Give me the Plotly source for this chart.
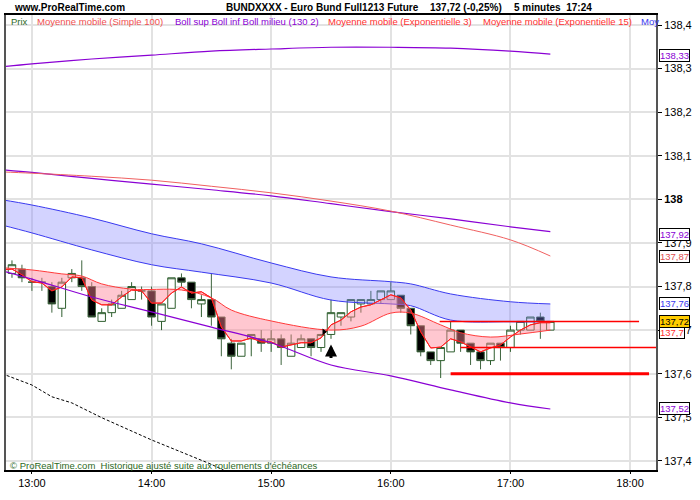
import pandas as pd
import plotly.graph_objects as go

DAY = "2013-11-04 "

# Candles (5 minutes), 12:50 -> 17:20
candle_times = pd.date_range(DAY + "12:50", periods=55, freq="5min")
opens = [137.83, 137.84, 137.81, 137.81, 137.80, 137.75, 137.82, 137.82, 137.80, 137.72,
         137.74, 137.75, 137.77, 137.79, 137.79, 137.72, 137.75, 137.82, 137.81, 137.76,
         137.77, 137.73, 137.67, 137.64, 137.68, 137.68, 137.67, 137.68, 137.64, 137.66,
         137.68, 137.66, 137.69, 137.73, 137.73, 137.76, 137.76, 137.77, 137.77, 137.78,
         137.75, 137.71, 137.65, 137.63, 137.65, 137.70, 137.67, 137.65, 137.63, 137.67,
         137.66, 137.70, 137.70, 137.73, 137.70]
highs = [137.86, 137.85, 137.82, 137.82, 137.81, 137.82, 137.84, 137.86, 137.81, 137.75,
         137.77, 137.79, 137.81, 137.80, 137.80, 137.76, 137.82, 137.83, 137.81, 137.78,
         137.83, 137.73, 137.68, 137.67, 137.69, 137.70, 137.70, 137.69, 137.69, 137.69,
         137.68, 137.69, 137.77, 137.74, 137.77, 137.77, 137.79, 137.79, 137.81, 137.78,
         137.75, 137.71, 137.65, 137.66, 137.72, 137.70, 137.67, 137.65, 137.67, 137.67,
         137.71, 137.72, 137.73, 137.74, 137.72]
lows = [137.82, 137.81, 137.79, 137.79, 137.74, 137.73, 137.81, 137.79, 137.73, 137.72,
        137.73, 137.75, 137.77, 137.77, 137.71, 137.70, 137.75, 137.80, 137.75, 137.73,
        137.71, 137.64, 137.61, 137.64, 137.64, 137.65, 137.65, 137.62, 137.64, 137.66,
        137.64, 137.65, 137.68, 137.71, 137.72, 137.74, 137.76, 137.76, 137.77, 137.74,
        137.69, 137.64, 137.62, 137.59, 137.65, 137.65, 137.62, 137.61, 137.62, 137.63,
        137.65, 137.69, 137.70, 137.68, 137.70]
closes = [137.85, 137.82, 137.81, 137.81, 137.76, 137.81, 137.83, 137.80, 137.73, 137.74,
          137.76, 137.78, 137.80, 137.79, 137.73, 137.76, 137.82, 137.81, 137.77, 137.77,
          137.73, 137.68, 137.64, 137.67, 137.69, 137.67, 137.68, 137.66, 137.67, 137.68,
          137.66, 137.69, 137.74, 137.74, 137.77, 137.77, 137.77, 137.79, 137.79, 137.75,
          137.71, 137.65, 137.63, 137.66, 137.70, 137.67, 137.65, 137.63, 137.67, 137.66,
          137.70, 137.72, 137.73, 137.72, 137.72]

# Moyenne mobile (Exponentielle 3), read per bar, 12:45 -> 17:20
ema3_times = pd.date_range(DAY + "12:45", periods=56, freq="5min")
ema3 = [137.838, 137.840, 137.827, 137.811, 137.808, 137.790, 137.799, 137.822, 137.820, 137.769,
        137.758, 137.758, 137.776, 137.792, 137.790, 137.762, 137.762, 137.785, 137.799, 137.785,
        137.788, 137.774, 137.707, 137.675, 137.675, 137.682, 137.673, 137.673, 137.661, 137.666,
        137.671, 137.671, 137.682, 137.712, 137.723, 137.742, 137.753, 137.758, 137.769, 137.781,
        137.774, 137.746, 137.696, 137.659, 137.661, 137.680, 137.673, 137.661, 137.650, 137.659,
        137.666, 137.684, 137.700, 137.712, 137.717, 137.717]

# Moyenne mobile (Exponentielle 15)
ema15_times = [DAY + t for t in ["12:45", "13:00", "13:15", "13:25", "13:35", "13:50", "14:15",
                                 "14:30", "14:40", "15:00", "15:30", "15:45", "16:00", "16:10",
                                 "16:25", "16:35", "16:50", "17:05", "17:20"]]
ema15 = [137.843, 137.838, 137.829, 137.824, 137.806, 137.794, 137.792, 137.774, 137.746,
         137.721, 137.700, 137.709, 137.739, 137.739, 137.712, 137.694, 137.684, 137.691, 137.700]

# Bollinger (130 2) and Moyenne mobile (Simple 100)
slow_times = [DAY + t for t in ["12:45", "13:00", "13:30", "14:00", "14:30", "15:00",
                                "15:30", "16:00", "16:30", "17:00", "17:20"]]
boll_sup = [138.304, 138.311, 138.322, 138.331, 138.340, 138.345, 138.349, 138.349, 138.347, 138.340, 138.333]
boll_mil = [138.068, 138.062, 138.048, 138.035, 138.022, 138.008, 137.990, 137.972, 137.955, 137.937, 137.926]
boll_inf = [137.836, 137.817, 137.776, 137.742, 137.707, 137.671, 137.620, 137.595, 137.563, 137.533, 137.519]
sma100 = [138.063, 138.060, 138.053, 138.044, 138.030, 138.015, 137.996, 137.973, 137.941, 137.907, 137.870]

# Blue envelope
band_times = [DAY + t for t in ["12:45", "13:00", "13:30", "14:00", "14:25", "15:00",
                                "15:30", "16:00", "16:10", "16:30", "17:00", "17:20"]]
band_up = [137.999, 137.987, 137.957, 137.921, 137.898, 137.854, 137.822, 137.811, 137.806, 137.783, 137.765, 137.760]
band_lo = [137.941, 137.923, 137.884, 137.850, 137.833, 137.808, 137.769, 137.760, 137.756, 137.723, 137.719, 137.719]

# black dashed line (bottom left)
dash_times = [DAY + t for t in ["12:45", "13:00", "13:10", "13:20", "13:35", "13:45",
                                "14:00", "14:15", "14:30", "14:40"]]
dash_vals = [137.600, 137.574, 137.547, 137.533, 137.499, 137.478, 137.448, 137.420, 137.392, 137.370]

# horizontal red levels
levels = [137.72, 137.66, 137.60]
level_start = [DAY + "16:24:30", DAY + "16:35", DAY + "16:30"]
level_end = [DAY + "18:04:30", DAY + "18:13", DAY + "18:09:30"]
level_width = [1.5, 1.5, 3]

# right side value boxes
box_vals = [138.33, 137.92, 137.87, 137.76, 137.695, 137.72, 137.52]
box_text = ["138,33", "137,92", "137,87", "137,76", "137,7", "137,72", "137,52"]
box_color = ["#8a00d4", "#8a00d4", "#e05050", "#3a3af0", "#ff3030", "#000000", "#8a00d4"]
box_bg = ["white", "white", "white", "white", "white", "#ffcc00", "white"]

ytick_vals = [137.4, 137.5, 137.6, 137.7, 137.8, 137.9, 138.0, 138.1, 138.2, 138.3, 138.4]
ytick_text = ["137,4", "137,5", "137,6", "137,7", "137,8", "137,9", "<b>138</b>",
              "138,1", "138,2", "138,3", "138,4"]

FONT = "Liberation Sans, Arial, sans-serif"
BLUE = "#3a3af0"
PURPLE = "#8a00d4"

fig = go.Figure()

# blue envelope with fill
fig.add_trace(go.Scatter(x=band_times, y=band_up, mode="lines", line=dict(color=BLUE, width=1),
                         line_shape="spline"))
fig.add_trace(go.Scatter(x=band_times, y=band_lo, mode="lines", line=dict(color=BLUE, width=1),
                         line_shape="spline", fill="tonexty", fillcolor="rgba(130,130,255,0.35)"))

# EMA 15 / EMA 3 with pink fill between
fig.add_trace(go.Scatter(x=ema15_times, y=ema15, mode="lines", line=dict(color="#ff3a3a", width=1),
                         line_shape="spline"))
fig.add_trace(go.Scatter(x=ema3_times, y=ema3, mode="lines", line=dict(color="#ff2020", width=1),
                         fill="tonexty", fillcolor="rgba(255,130,150,0.45)"))

# candles
fig.add_trace(go.Candlestick(
    x=candle_times, open=opens, high=highs, low=lows, close=closes,
    increasing=dict(line=dict(color="#2f5f2f", width=1), fillcolor="white"),
    decreasing=dict(line=dict(color="#3f653f", width=1), fillcolor="black"),
    whiskerwidth=0))

# redraw the EMA 3 line over candles
fig.add_trace(go.Scatter(x=ema3_times, y=ema3, mode="lines", line=dict(color="#ff2020", width=1)))

# Bollinger and SMA 100
fig.add_trace(go.Scatter(x=slow_times, y=boll_sup, mode="lines", line=dict(color=PURPLE, width=1.2),
                         line_shape="spline"))
fig.add_trace(go.Scatter(x=slow_times, y=boll_mil, mode="lines", line=dict(color=PURPLE, width=1.2),
                         line_shape="spline"))
fig.add_trace(go.Scatter(x=slow_times, y=boll_inf, mode="lines", line=dict(color=PURPLE, width=1.2),
                         line_shape="spline"))
fig.add_trace(go.Scatter(x=slow_times, y=sma100, mode="lines", line=dict(color="#f06060", width=1),
                         line_shape="spline"))

# dashed black line
fig.add_trace(go.Scatter(x=dash_times, y=dash_vals, mode="lines",
                         line=dict(color="black", width=1, dash="3px,2px")))

# red levels
for v, s, e, w in zip(levels, level_start, level_end, level_width):
    fig.add_trace(go.Scatter(x=[s, e], y=[v, v], mode="lines", line=dict(color="#ff0000", width=w)))

# small marker near 15:30
fig.add_trace(go.Scatter(x=[DAY + "15:26:30"], y=[137.696], mode="markers",
                         marker=dict(symbol="triangle-right", size=6, color="black")))

# up arrow under the 15:30 bar
fig.add_annotation(x=DAY + "15:30", y=137.667, ax=0, ay=15, showarrow=True, text="",
                   arrowhead=2, arrowsize=0.8, arrowwidth=3, arrowcolor="black")

# right side boxes
for v, t, c, bg in zip(box_vals, box_text, box_color, box_bg):
    fig.add_annotation(xref="paper", x=1, xanchor="left", xshift=3, yref="y", y=v,
                       text=t, showarrow=False, font=dict(family=FONT, size=9.5, color=c),
                       bgcolor=bg, bordercolor="black", borderwidth=1, borderpad=0)


def px(xpix):
    return (xpix - 4) / 652.0


# header
header = [("<b>www.ProRealTime.com</b>", 10),
          ("<b>BUNDXXXX - Euro Bund Full1213 Future</b>", 223),
          ("<b>137,72 (-0,25%)</b>", 427),
          ("<b>5 minutes  17:24</b>", 512)]
for t, xp in header:
    fig.add_annotation(xref="paper", yref="paper", x=px(xp), y=1, yshift=8, xanchor="left",
                       yanchor="middle", showarrow=False, text=t,
                       font=dict(family=FONT, size=10, color="black"))

# legend row
legend_items = [("Prix", "#2d6a1e", 7),
                ("Moyenne mobile (Simple 100)", "#f05050", 33),
                ("Boll sup Boll inf Boll milieu (130 2)", PURPLE, 172),
                ("Moyenne mobile (Exponentielle 3)", "#ff3030", 325),
                ("Moyenne mobile (Exponentielle 15)", "#ff3030", 480),
                ("Moy", BLUE, 639)]
for t, c, xp in legend_items:
    fig.add_annotation(xref="paper", yref="paper", x=px(xp), y=1, yshift=-6, xanchor="left",
                       yanchor="middle", showarrow=False, text=t,
                       font=dict(family=FONT, size=9.5, color=c))

fig.add_annotation(xref="paper", yref="paper", x=px(6), y=0, yshift=5, xanchor="left",
                   yanchor="middle", showarrow=False,
                   text="© ProRealTime.com  Historique ajusté suite aux roulements d'échéances",
                   font=dict(family=FONT, size=9.5, color="#2d6a1e"))

fig.update_layout(
    width=700, height=500,
    margin=dict(l=4, r=44, t=15, b=30),
    paper_bgcolor="white", plot_bgcolor="white",
    showlegend=False,
    boxgap=0.25, boxgroupgap=0,
    font=dict(family=FONT, size=11, color="black"),
    xaxis=dict(
        type="date",
        range=[DAY + "12:47", DAY + "18:13"],
        rangeslider=dict(visible=False),
        tickformat="%H:%M", dtick=3600000, tick0=DAY + "13:00",
        showgrid=True, gridcolor="#e2e2e2", gridwidth=1.5,
        showline=True, linecolor="black", linewidth=1.5, mirror=True,
        ticks="outside", ticklen=2, tickcolor="black",
        tickfont=dict(family=FONT, size=11, color="black"),
        zeroline=False,
    ),
    yaxis=dict(
        side="right",
        range=[137.379, 138.423],
        tickvals=ytick_vals, ticktext=ytick_text,
        showgrid=True, gridcolor="#e2e2e2", gridwidth=1.5,
        showline=True, linecolor="#555555", linewidth=2, mirror=True,
        ticks="outside", ticklen=4, tickcolor="black",
        tickfont=dict(family=FONT, size=11, color="black"),
        zeroline=False,
    ),
)

# page margin off so the chart sits at the window's corner; no mode bar
fig.write_html("out.html", config={"displayModeBar": False},
               post_script="document.body.style.margin='0';")
